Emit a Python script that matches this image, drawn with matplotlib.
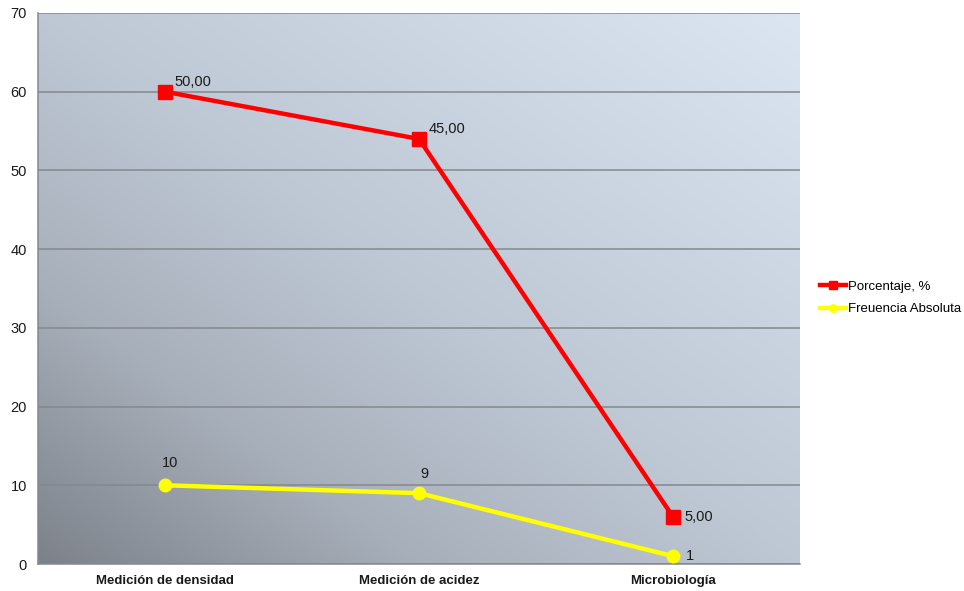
import numpy as np
import matplotlib.pyplot as plt
from matplotlib.colors import LinearSegmentedColormap

plt.rcParams['font.family'] = ['Liberation Sans', 'DejaVu Sans']

categorias = ['Medición de densidad', 'Medición de acidez', 'Microbiología']
porcentaje = [50.0, 45.0, 5.0]
frecuencia = [10, 9, 1]

# el grafico original es de lineas apiladas: porcentaje va sobre la frecuencia
apilado = [p + f for p, f in zip(porcentaje, frecuencia)]

fig = plt.figure(figsize=(9.64, 5.91), dpi=100)
ax = fig.add_axes([38 / 964, 27 / 591, 762 / 964, 551 / 591])

x = np.arange(len(categorias)) + 0.5
ax.set_xlim(0, len(categorias))
ax.set_ylim(0, 70)

# fondo degradado, oscuro abajo a la izquierda y claro arriba a la derecha
gx, gy = np.meshgrid(np.linspace(0, 1, 300), np.linspace(0, 1, 300))
grad = (gx * 0.5 + gy * 0.5)
cmap = LinearSegmentedColormap.from_list(
    'fondo', [(0, '#7d828a'), (0.25, '#a7afba'), (0.5, '#bec8d4'), (1, '#dce6f2')])
ax.imshow(grad, cmap=cmap, origin='lower', extent=[0, len(categorias), 0, 70],
          aspect='auto', zorder=0, interpolation='bicubic')

ax.set_yticks(range(0, 71, 10))
ax.yaxis.grid(True, color='#85888d', linewidth=1.1, zorder=1)
ax.set_axisbelow(False)
ax.set_xticks(x)
ax.set_xticklabels(categorias, fontweight='bold', fontsize=9.5, color='#1a1a1a')
ax.tick_params(axis='y', labelsize=10.5, colors='#1a1a1a', length=0, pad=8)
ax.tick_params(axis='x', length=0, pad=8)

for s in ['top', 'right']:
    ax.spines[s].set_visible(False)
for s in ['left', 'bottom']:
    ax.spines[s].set_color('#85888d')
    ax.spines[s].set_linewidth(1.1)

ax.plot(x, apilado, color='#ff0000', linewidth=3.2, marker='s', markersize=10,
        label='Porcentaje, %', zorder=3, clip_on=False)
ax.plot(x, frecuencia, color='#ffff00', linewidth=3.2, marker='o', markersize=9,
        label='Freuencia Absoluta', zorder=3, clip_on=False)

for i in range(len(categorias)):
    etiqueta = f'{porcentaje[i]:.2f}'.replace('.', ',')
    if i < 2:
        ax.annotate(etiqueta, (x[i], apilado[i]), xytext=(7, 2), textcoords='offset points',
                    fontsize=10.5, color='#1a1a1a', ha='left', va='bottom', zorder=4)
    else:
        ax.annotate(etiqueta, (x[i], apilado[i]), xytext=(8, 0), textcoords='offset points',
                    fontsize=10.5, color='#1a1a1a', ha='left', va='center', zorder=4)

offsets = [(4, 11), (4, 9), (9, 0)]
for i in range(len(categorias)):
    dx, dy = offsets[i]
    ax.annotate(str(frecuencia[i]), (x[i], frecuencia[i]), xytext=(dx, dy),
                textcoords='offset points', fontsize=10.5, color='#1a1a1a',
                ha='center' if i < 2 else 'left', va='bottom' if i < 2 else 'center', zorder=4)

fig.legend(loc='center left', bbox_to_anchor=(808 / 964, 1 - 298 / 591), frameon=False,
           fontsize=9.5, handlelength=2.0, handletextpad=0.1, labelspacing=0.75, markerscale=0.6)

fig.savefig('out.png', dpi=100)
